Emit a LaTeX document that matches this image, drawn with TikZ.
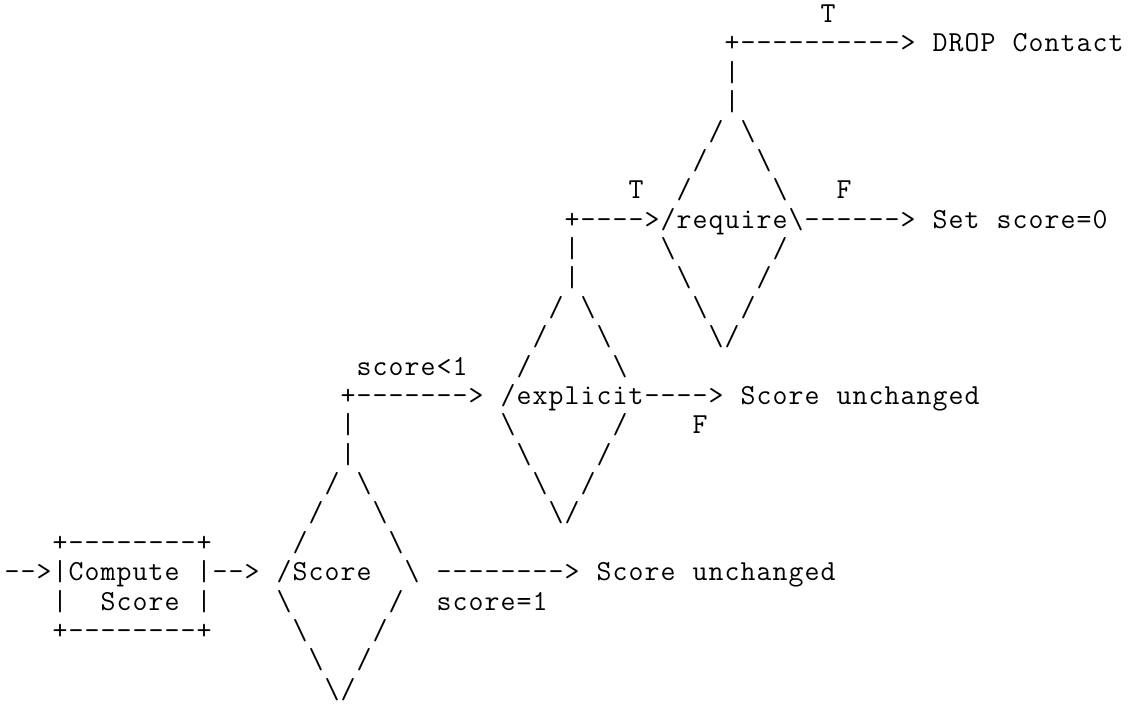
\documentclass[tikz,border=0pt]{standalone}
\usepackage{fontspec}
\newfontfamily\asciifam{Latin Modern Mono}

\newlength{\cellw}
\setlength{\cellw}{16pt}
\newcommand{\asciifont}{\asciifam\fontsize{29pt}{29.375pt}\selectfont}
% one character per fixed cell, ~ stands for a blank cell
\newcommand{\asc}[1]{\ascloop#1\relax}
\newcommand{\ascloop}[1]{\ifx#1\relax\else\makebox[\cellw][c]{#1}\expandafter\ascloop\fi}

\begin{document}
\begin{tikzpicture}[x=16pt, y=-29.375pt]

%% styles
\tikzstyle{ascii}=[inner sep=0pt, outer sep=0pt, anchor=base west, font=\asciifont]

\path[use as bounding box, fill=white] (0pt,0pt) rectangle (1128pt,-705pt);

\begin{scope}[shift={(4pt,-22.5pt)}]

%% compute box
\node(armIn)[style = ascii] at (0, 19) {\asc{-->}};
\node(boxTop)[style = ascii] at (3, 18) {\asc{+--------+}};
\node(boxMid)[style = ascii] at (3, 19) {\asc{|Compute~|}};
\node(boxLow)[style = ascii] at (3, 20) {\asc{|~~Score~|}};
\node(boxBot)[style = ascii] at (3, 21) {\asc{+--------+}};
\node(armSco)[style = ascii] at (13, 19) {\asc{-->}};

%% Score diamond
\node(scoTop1)[style = ascii] at (20, 16) {\asc{/~\textbackslash}};
\node(scoTop2)[style = ascii] at (19, 17) {\asc{/~~~\textbackslash}};
\node(scoTop3)[style = ascii] at (18, 18) {\asc{/~~~~~\textbackslash}};
\node(sco)[style = ascii] at (17, 19) {\asc{/Score~~\textbackslash}};
\node(scoBot1)[style = ascii] at (17, 20) {\asc{\textbackslash~~~~~~/}};
\node(scoBot2)[style = ascii] at (18, 21) {\asc{\textbackslash~~~~/}};
\node(scoBot3)[style = ascii] at (19, 22) {\asc{\textbackslash~~/}};
\node(scoBot4)[style = ascii] at (20, 23) {\asc{\textbackslash/}};

\node(armKeepB)[style = ascii] at (27, 19) {\asc{-------->}};
\node(keepB)[style = ascii] at (37, 19) {\asc{Score~unchanged}};
\node(scoreOne)[style = ascii] at (27, 20) {\asc{score=1}};

\node(barExpB)[style = ascii] at (21, 15) {\asc{|}};
\node(barExpA)[style = ascii] at (21, 14) {\asc{|}};
\node(armExp)[style = ascii] at (21, 13) {\asc{+------->}};
\node(scoreLess)[style = ascii] at (22, 12) {\asc{score<1}};

%% explicit diamond
\node(expTop1)[style = ascii] at (34, 10) {\asc{/~\textbackslash}};
\node(expTop2)[style = ascii] at (33, 11) {\asc{/~~~\textbackslash}};
\node(expTop3)[style = ascii] at (32, 12) {\asc{/~~~~~\textbackslash}};
\node(exp)[style = ascii] at (31, 13) {\asc{/explicit}};
\node(expBot1)[style = ascii] at (31, 14) {\asc{\textbackslash~~~~~~/}};
\node(expBot2)[style = ascii] at (32, 15) {\asc{\textbackslash~~~~/}};
\node(expBot3)[style = ascii] at (33, 16) {\asc{\textbackslash~~/}};
\node(expBot4)[style = ascii] at (34, 17) {\asc{\textbackslash/}};

\node(armKeepA)[style = ascii] at (40, 13) {\asc{---->}};
\node(keepA)[style = ascii] at (46, 13) {\asc{Score~unchanged}};
\node(Fexp)[style = ascii] at (43, 14) {\asc{F}};

\node(barReqB)[style = ascii] at (35, 9) {\asc{|}};
\node(barReqA)[style = ascii] at (35, 8) {\asc{|}};
\node(armReq)[style = ascii] at (35, 7) {\asc{+---->}};
\node(Treq)[style = ascii] at (39, 6) {\asc{T}};

%% require diamond
\node(reqTop1)[style = ascii] at (44, 4) {\asc{/~\textbackslash}};
\node(reqTop2)[style = ascii] at (43, 5) {\asc{/~~~\textbackslash}};
\node(reqTop3)[style = ascii] at (42, 6) {\asc{/~~~~~\textbackslash}};
\node(req)[style = ascii] at (41, 7) {\asc{/require\textbackslash}};
\node(reqBot1)[style = ascii] at (41, 8) {\asc{\textbackslash~~~~~~/}};
\node(reqBot2)[style = ascii] at (42, 9) {\asc{\textbackslash~~~~/}};
\node(reqBot3)[style = ascii] at (43, 10) {\asc{\textbackslash~~/}};
\node(reqBot4)[style = ascii] at (44, 11) {\asc{\textbackslash/}};

\node(armSet)[style = ascii] at (50, 7) {\asc{------>}};
\node(setZero)[style = ascii] at (58, 7) {\asc{Set~score=0}};
\node(Freq)[style = ascii] at (52, 6) {\asc{F}};

\node(barDropB)[style = ascii] at (45, 3) {\asc{|}};
\node(barDropA)[style = ascii] at (45, 2) {\asc{|}};
\node(armDrop)[style = ascii] at (45, 1) {\asc{+---------->}};
\node(drop)[style = ascii] at (58, 1) {\asc{DROP~Contact}};
\node(Tdrop)[style = ascii] at (51, 0) {\asc{T}};

\end{scope}

\end{tikzpicture}
\end{document}
